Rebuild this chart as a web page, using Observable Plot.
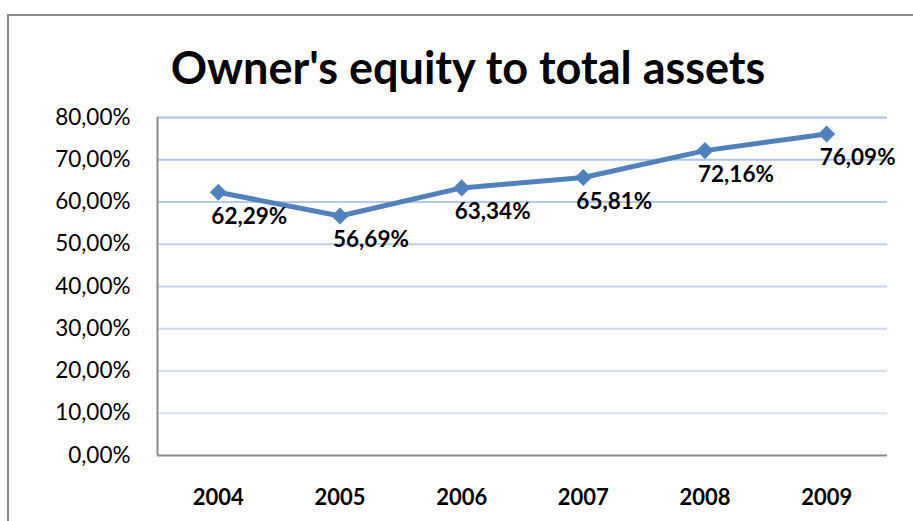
<!DOCTYPE html>
<html>
<head>
<meta charset="utf-8">
<script src="https://cdn.jsdelivr.net/npm/d3@7"></script>
<script src="https://cdn.jsdelivr.net/npm/@observablehq/plot@0.6"></script>
<style>
  html, body { margin: 0; padding: 0; background: #fff; overflow: hidden; }
  #wrap { position: relative; width: 913px; height: 521px; overflow: hidden; }
  #frame { position: absolute; left: 7px; top: 14px; width: 950px; height: 600px; border: 2px solid #8a8a8a; box-sizing: border-box; }
  #title { position: absolute; left: 0; width: 936px; top: 39px; text-align: center; font-family: Lato, "Open Sans", sans-serif; font-weight: bold; font-size: 45px; color: #000; line-height: 56px; }
  #chart { position: absolute; left: 0; top: 0; }
</style>
</head>
<body>
<div id="wrap">
  <div id="frame"></div>
  <div id="chart"></div>
  <div id="title">Owner's equity to total assets</div>
</div>
<script>
const years = [2004, 2005, 2006, 2007, 2008, 2009];
const equityRatio = [0.6229, 0.5669, 0.6334, 0.6581, 0.7216, 0.7609];
const yTicks = [0, 0.1, 0.2, 0.3, 0.4, 0.5, 0.6, 0.7, 0.8];

const data = years.map((y, i) => ({year: y, value: equityRatio[i]}));
const pct = d => (d * 100).toFixed(2).replace(".", ",") + "%";
const gridColor = d3.interpolateRgb("#dfe8f5", "#a8c0e3");
const font = "Lato, 'Open Sans', sans-serif";

const chart = Plot.plot({
  width: 913,
  height: 521,
  marginLeft: 157,
  marginRight: 26,
  marginTop: 117,
  marginBottom: 66,
  style: {fontFamily: font, background: "transparent", overflow: "visible"},
  x: {domain: [years[0] - 0.5, years[years.length - 1] + 0.5], ticks: years, tickFormat: d => String(d)},
  y: {domain: [0, 0.8], ticks: yTicks, tickFormat: pct},
  color: {type: "identity"},
  marks: [
    Plot.ruleY(yTicks.filter(d => d > 0), {y: d => d, stroke: d => gridColor(d / 0.8), strokeWidth: 2}),
    Plot.ruleY([0], {stroke: "#8a8a8a", strokeWidth: 2}),
    Plot.ruleX([years[0] - 0.5], {y1: 0, y2: 0.8, stroke: "#8a8a8a", strokeWidth: 2}),
    Plot.axisY({ticks: yTicks, tickFormat: pct, tickSize: 0, tickPadding: 27, fontSize: 22.5, fill: "#000", label: null}),
    Plot.axisX({ticks: years, tickFormat: d => String(d), tickSize: 0, tickPadding: 34, fontSize: 22, fontWeight: "bold", fill: "#000", label: null}),
    Plot.line(data, {x: "year", y: "value", stroke: "#4f81bd", strokeWidth: 5}),
    Plot.dot(data, {x: "year", y: "value", symbol: "diamond2", r: 7.7, fill: "#4f81bd", stroke: "none"}),
    Plot.text(data, {x: "year", y: "value", text: d => pct(d.value), textAnchor: "start", lineAnchor: "middle", dx: -7, dy: 24, fontSize: 22.5, fontWeight: "bold", fill: "#000"})
  ]
});
document.getElementById("chart").appendChild(chart);
</script>
</body>
</html>
